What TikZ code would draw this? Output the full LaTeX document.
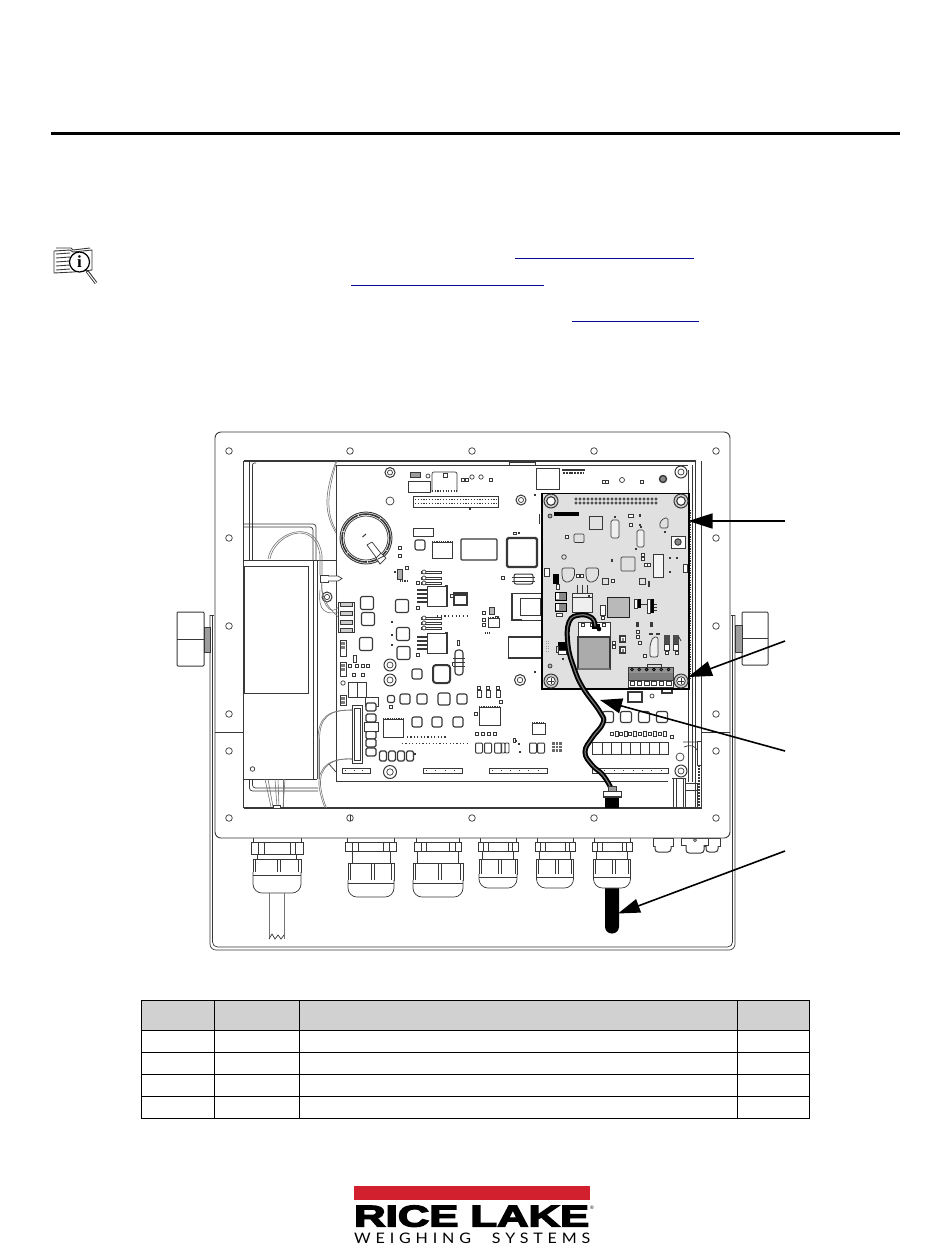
\documentclass[tikz,border=0pt]{standalone}
\usepackage{fontspec}
\usepackage{graphicx}
\usetikzlibrary{arrows.meta}
\newfontfamily\logofont{Liberation Sans}[BoldFeatures={FakeBold=4}]
\newfontfamily\subfont{Lato}[LetterSpace=30]
\newfontfamily\iconfont{Liberation Serif}
\definecolor{ink}{gray}{0.22}
\definecolor{brd}{gray}{0.88}
\definecolor{linkblue}{HTML}{0A0A96}
\definecolor{logored}{HTML}{D2202F}
\tikzset{
 ln/.style={draw=ink,line width=.7pt},
 hv/.style={draw=ink,line width=1.5pt},
 wirel/.style={draw=ink!70,line width=.6pt},
 arrowline/.style={draw=black,line width=1.6pt},
}
\newcommand\mybox[4]{\draw[ln] (#1,#2) rectangle (#3,#4);}
\newcommand\mywbox[4]{\draw[ln,fill=white] (#1,#2) rectangle (#3,#4);}
\newcommand\mygbox[5]{\draw[ln,fill=#5] (#1,#2) rectangle (#3,#4);}
\newcommand\mychip[4]{%
 \draw[draw=ink,line width=1.6pt,dash pattern=on 1.1pt off 1.1pt] (#1,#2) -- (#3,#2) (#1,#4) -- (#3,#4);
 \draw[ln,fill=white] (#1,#2) rectangle (#3,#4);}
\newcommand\mycap[3]{\draw[draw=ink,line width=1.1pt,fill=white,rounded corners=2pt] (#1-#3,#2-#3) rectangle (#1+#3,#2+#3);}
\newcommand\mysm[2]{\draw[ln,fill=white] (#1-1.5,#2-1.5) rectangle (#1+1.5,#2+1.5);}
\newcommand\mydk[2]{\fill[ink] (#1-1.4,#2-1.2) rectangle (#1+1.4,#2+1.2);}
\newcommand\myhole[2]{\draw[ln] (#1,#2) circle[radius=3.3pt];}
\newcommand\myring[3]{\draw[draw=ink,line width=1pt] (#1,#2) circle[radius=#3 pt]; \draw[ln] (#1,#2) circle[radius=#3*.5 pt];}
\newcommand\mydots[4]{\draw[draw=ink,line width=1.3pt,dash pattern=on 1.2pt off #4 pt] (#1,#3) -- (#2,#3);}
\newcommand\mystrip[3]{\draw[ln] (#1,768) rectangle (#2,773);\draw[draw=ink,line width=1.5pt,dash pattern=on .9pt off #3 pt] (#1+3,770.5) -- (#2-2,770.5);}
\newcommand\mygland[7]{% cx halfnut ynut yneck halfnut2 ynut2 ydome
 \begin{scope}[shift={(#1,0)}]
 \draw[ln,fill=white] ({-#2+2},837) rectangle ({#2-2},842);
 \draw[ln,fill=white] (-#2,842) rectangle (#2,#3);
 \draw[ln] ({-#2*.72},842) -- ({-#2*.72},#3) ({-#2*.5},842) -- ({-#2*.5},#3) ({#2*.72},842) -- ({#2*.72},#3) ({#2*.5},842) -- ({#2*.5},#3);
 \draw[ln,fill=white] ({-#5*.82},#3) rectangle ({#5*.82},#4);
 \draw[ln,fill=white] (-#5,#4) rectangle (#5,#6);
 \draw[ln] ({-#5*.9},#4) -- ({-#5*.9},#6) ({#5*.9},#4) -- ({#5*.9},#6) (0,#4) -- (0,#6) (3,#4) -- (3,#6);
 \draw[ln,fill=white,rounded corners=9pt] (-#5,#6) -- (-#5,#7) -- (#5,#7) -- (#5,#6);
 \draw[ln] (-#5,{#6+3.5}) -- (#5,{#6+3.5});
 \end{scope}}
\begin{document}
\begin{tikzpicture}[x=1pt,y=-1pt]
\useasboundingbox (0,0) rectangle (950,1254);
\fill[white] (0,0) rectangle (950,1254);
% ---- page rule and blank cross-reference underlines
\draw[draw=black,line width=3pt] (51,133) -- (900,133);
\draw[draw=linkblue,line width=1.4pt] (514.5,258.3) -- (694,258.3);
\draw[draw=linkblue,line width=1.4pt] (351,285.3) -- (544,285.3);
\draw[draw=linkblue,line width=1.4pt] (572,321.3) -- (699,321.3);
% ---- info icon
\begin{scope}[line join=round]
 \draw[draw=ink,line width=.9pt] (54,251) -- (70,250) -- (73,252) -- (92,250) -- (92,270) -- (73,272) -- (54,273) -- cycle;
 \draw[draw=ink,line width=.9pt] (56,248) -- (71,248) -- (73,250) -- (90,248);
 \foreach \yy in {254,258,262,266,270} \draw[draw=ink,line width=.9pt] (56,\yy) -- (70,\yy-1);
 \draw[draw=black,line width=1.2pt,fill=white] (79.5,262) circle[radius=10pt];
 \draw[draw=ink,line width=3pt] (87,271) -- (96,283);
 \draw[draw=white,line width=1pt] (87.5,272) -- (96,283);
 \node[inner sep=0pt,font=\iconfont\bfseries\fontsize{17}{17}\selectfont] (iconi) at (79.5,262) {i};
\end{scope}
% ---- back plate
\draw[ln,rounded corners=6pt] (210,615) -- (210,950) -- (735,950) -- (735,615);
\draw[ln,rounded corners=5pt] (212.5,615) -- (212.5,947) -- (732.5,947) -- (732.5,615);
\draw[ln] (210,615) -- (214,615) (735,615) -- (731,615);
% ---- knobs
\draw[draw=ink,line width=1pt,fill=white,rounded corners=1pt] (177,612) rectangle (204,666);
\draw[ln] (177,639) -- (204,639);
\draw[ln,fill=ink!50] (204,627) rectangle (210,652);
\draw[draw=ink,line width=1pt,fill=white,rounded corners=1pt] (742,612) rectangle (768,665);
\draw[ln] (742,638) -- (768,638);
\draw[ln,fill=ink!50] (735,625) rectangle (742,652);
% ---- glands below the housing
\mygland{277}{26}{854}{859}{24}{872}{893}
\draw[draw=ink!70,line width=.7pt] (269,893) -- (269,939) (284,893) -- (284,939);
\draw[draw=ink,line width=.7pt] (269,939) -- (272,934) -- (275,939) -- (278,935) -- (281,939) -- (284,935);
\mygland{371}{25.5}{851}{863}{23}{880}{897}
\mygland{438}{23.5}{851}{863}{25}{880}{897}
\mygland{498}{20}{851}{859}{19}{874}{888}
\mygland{555}{20}{851}{859}{18.5}{874}{888}
\fill[black,rounded corners=6.8pt] (605,875) rectangle (619,933.5);
\mygland{612}{20}{851}{859}{18.5}{874}{888}
\foreach \cx/\hw in {663/10,712/8} {
 \draw[ln,fill=white] (\cx-\hw,838) rectangle (\cx+\hw,846);
 \draw[draw=ink,line width=1pt,fill=white,rounded corners=3pt] (\cx-\hw+2,846) -- (\cx-\hw+2,852) -- (\cx+\hw-2,852) -- (\cx+\hw-2,846);
}
\draw[ln,fill=white] (681,838) rectangle (708,845);
\draw[draw=ink,line width=1pt,fill=white,rounded corners=3pt] (686,845) -- (686,853) -- (704,853) -- (704,845);
\draw[ln] (695,840) circle[radius=1.5pt];
% ---- housing flange
\draw[draw=ink,line width=.9pt,fill=white,rounded corners=6pt] (215,432) rectangle (730,838);
\foreach \xx in {229,350,472,594,716} {\myhole{\xx}{451}\myhole{\xx}{818}}
\foreach \xx in {229,716} \foreach \yy in {538,626,714,751} \myhole{\xx}{\yy};
\draw[ln] (350.5,815) -- (350.5,821);
% ---- housing opening
\draw[draw=ink,line width=1.5pt] (243.5,808) -- (702,808);
\draw[draw=ink,line width=1.2pt] (243.5,461) -- (696,461);
\draw[draw=ink,line width=.9pt] (243.5,461) -- (243.5,808);
\draw[ln] (695,461) -- (695,808) (701,461) -- (701,808);
\draw[ln] (688.5,470) -- (688.5,782) (692,465) -- (692,782);
\draw[ln] (215,732) -- (243.5,732) (701,732) -- (730,732);
% rail behind transformer
\draw[ln] (249.5,461) -- (249.5,560);
\draw[ln,rounded corners=2pt] (256,463) -- (252.5,463) -- (252.5,560);
\draw[ln,rounded corners=3pt] (243.5,524) -- (316,524) -- (316,560);
\draw[ln,rounded corners=3pt] (243.5,527) -- (313,527) -- (313,560);
\draw[ln] (243.5,560) -- (336,560);
% wires by the top
\foreach \d in {0,2.5} \draw[wirel] ({336+\d*.3},{461}) .. controls ({326+\d},490) and ({322+\d},510) .. ({336},{533-\d});
% transformer
\draw[draw=ink,line width=.8pt,fill=white] (243.5,560) rectangle (313,779);
\draw[ln] (317,560) -- (317,779) (243.5,779) -- (317,779);
\draw[draw=ink,line width=1pt] (244,566) rectangle (308,693);
\draw[ln] (252.5,769) circle[radius=2.3pt];
% transformer under-lines and wires
\draw[ln,rounded corners=3pt] (249.5,779) -- (249.5,791) -- (318,791);
\draw[ln,rounded corners=3pt] (252.5,779) -- (252.5,788) -- (318,788);
\foreach \xa/\xb in {265/271,268/273,275/277,278/279,283/283,285/283} \draw[wirel] (\xa,779) -- (\xb,807);
\draw[ln,fill=white] (273,805) rectangle (280,808);
% wire loop from transformer
\foreach \d in {0,2} \draw[wirel] ({268+\d},559) .. controls ({272+\d},{533+\d}) and ({316-\d},{515+\d}) .. ({322-\d},555) -- ({322-\d},575);
% ---- main PCB
\draw[ln] (336,465) -- (336,781) -- (668,781);
\draw[ln] (336,465) -- (688,465);
\draw[ln,fill=white] (535,465) rectangle (509,462);
% standoff and ring terminal
\draw[ln,fill=white] (320,575) rectangle (328,582);
\draw[ln,fill=white] (328,576) -- (338,576) -- (342,578.5) -- (338,581) -- (328,581);
\draw[draw=ink,line width=1pt,fill=white] (327,597) circle[radius=5pt];
\draw[ln] (327,597) circle[radius=2.6pt];
\draw[wirel] (320,590) .. controls (318,612) and (325,615) .. (342,612);
\draw[wirel] (322,582) .. controls (320,600) and (330,620) .. (340,605);
\draw[wirel] (322,582) .. controls (320,600) and (332,612) .. (342,620);
% terminal block
\draw[draw=ink,line width=1pt,fill=white] (338,602) rectangle (354,632);
\foreach \yy in {602,611,620,628} {\draw[ln,fill=ink!25] (340,\yy) rectangle (352,\yy+4);}
% capacitors
\foreach \xx/\yy in {367/603,368/619,366/644,402/606,403/634,403.5/653} \mycap{\xx}{\yy}{6.5};
\foreach \xx/\yy in {417/674,405/699,422/699,462/699,420/545} \mycap{\xx}{\yy}{5};
\mycap{444}{699}{6}
\draw[draw=ink,line width=2pt,fill=white,rounded corners=3pt] (433,665) rectangle (450,683);
\foreach \xx/\yy in {417/722,437/722,458/722} {\mycap{\xx}{\yy}{5}}
\foreach \xx/\yy in {608/717,626/717,644/717,662/717} {\mycap{\xx}{\yy}{5.5}}
\mycap{391}{699}{3.5}
% screw posts and rings
\myring{390}{665}{6}\myring{390}{680}{6}\myring{390}{772}{6.5}
\myring{390}{472.5}{5}
\draw[ln] (390,501) circle[radius=4pt];
\myring{521}{500}{5}\myring{520}{680}{5.5}
\myring{681}{472}{6}
\draw[ln] (680,757) circle[radius=4pt];
\myring{681}{771}{6}
% top area
\mygbox{410}{472}{420}{477}{ink!50}
\draw[ln] (428,476) circle[radius=2pt];
\mybox{408}{481}{430}{492}
\draw[ln,rounded corners=2pt] (432,492) -- (432,472) -- (457,472) -- (457,492);
\draw[ln] (443,473) rectangle (447,477);
\draw[draw=ink,line width=1.3pt,dash pattern=on 1.2pt off 1.5pt] (432,491) -- (457,491);
\foreach \xx/\yy in {463/480,467/480,491/480} \mysm{\xx}{\yy};
\foreach \xx in {472,481} \draw[ln] (\xx,477) circle[radius=2.2pt];
\draw[ln] (413,496) rectangle (498,507);
\mydots{415}{497}{499.5}{1.6}\mydots{415}{497}{503.5}{1.6}
\mydk{470}{509}
% battery
\draw[draw=ink,line width=.9pt] (366,538) circle[radius=26pt];
\draw[draw=ink,line width=1.6pt,dash pattern=on 22pt off 1pt] (366,538) circle[radius=24pt];
\draw[ln] (366,538) circle[radius=22pt];
\draw[draw=ink,line width=1pt] (362.5,537) -- (366,534);
\draw[ln,fill=white] (367,545) -- (372,542) -- (383,556) -- (378,560) -- cycle;
\draw[ln,fill=white] (376,558) -- (381,553) -- (386,558) -- (380,564) -- cycle;
\draw[ln] (378,559) -- (384,556);
% left column small items
\mywbox{413}{528}{433}{536}
\mychip{432}{542}{452}{558}
\draw[draw=ink,line width=1.2pt,fill=white,rounded corners=1pt] (461,539) rectangle (497,560);
\mysm{400}{548}\mysm{400}{556}
\draw[ln,fill=ink!40] (397,569) rectangle (402,579);
\mysm{407}{568}\mydk{395}{572}
\mydots{400}{407}{581}{1}
\foreach \yy in {572,578,583} {\draw[ln] (421,\yy-1) rectangle (441,\yy+1); \draw[ln,fill=white] (424,\yy) circle[radius=2pt];}
\foreach \yy in {618,623,628} {\draw[ln] (421,\yy-1) rectangle (441,\yy+1); \draw[ln,fill=white] (424,\yy) circle[radius=2pt];}
\foreach \yt in {586,633} {
 \draw[ln,fill=white] (427,\yt) rectangle (447,\yt+20);
 \draw[draw=ink,line width=1.4pt] (445,\yt) -- (447,\yt) -- (447,\yt+20);
 \foreach \d in {4,8,12,16} \draw[draw=ink,line width=1.4pt] (417,\yt+\d) -- (427,\yt+\d);
 \mysm{418}{\yt+22}
}
\draw[draw=ink,line width=1.2pt] (454,593) rectangle (467,605);
\fill[ink] (454,593) rectangle (467,595.5);
\mysm{452}{596}\mysm{418}{583}
\mydots{437}{468}{616}{2.5}
\draw[ln] (457,640) rectangle (459,645);
\foreach \yy in {622,635,645} \mydk{392}{\yy};
% crystal
\draw[draw=ink,line width=1.1pt,fill=white,rounded corners=3pt] (455,650) rectangle (463,675);
\foreach \yy in {658,662,666} \draw[ln] (453,\yy) -- (465,\yy);
\draw[draw=ink,line width=1pt] (452,662) -- (452,666);
% small IC cluster right
\draw[ln,fill=ink!35] (489,607) rectangle (494,614);
\foreach \xx/\yy in {484/613,484/620,484/625,497/618} \mysm{\xx}{\yy};
\mychip{488}{618}{499}{627}
\mydots{485}{490}{633}{.8}
% left terminal pads
\foreach \yt/\yb in {640/656,662/676,695/705} {\draw[ln] (340,\yt) rectangle (346,\yb); \fill[ink!65] (341,\yt+1.5) rectangle (345,\yt+4.5);\fill[ink!65] (341,\yt+6) rectangle (345,\yt+9);}
\draw[ln] (343,683) circle[radius=2.2pt];
\mybox{353}{655}{356}{662}
\foreach \xx in {350,357,363,368} \mysm{\xx}{666};
\foreach \xx in {354,363} \mysm{\xx}{675};
\draw[ln,fill=white] (348,682) rectangle (357,697);
\draw[ln,fill=white] (357,682) rectangle (366,697);
\mywbox{365}{697}{378}{706}
% flat cable
\foreach \d in {0,1.5} \draw[wirel] (352,{710-\d*0}) .. controls ({330+\d},710) and ({318+\d},715) .. ({318+\d},740) -- ({318+\d},779);
\foreach \d in {0,1.5} \draw[wirel] (352,759) .. controls ({332+\d},758) and ({318+\d},765) .. ({319+\d},785) .. controls ({320+\d},795) and ({323+\d},803) .. ({325+\d},808);
\draw[ln] (329,764) -- (336,772);
\draw[ln,fill=white] (352,705) rectangle (362,763);
\draw[ln] (354,708) rectangle (360,760);
\foreach \yy in {707,718,735,743,752} \draw[draw=ink,line width=1.1pt,fill=white,rounded corners=1.5pt] (366,\yy-4) rectangle (376,\yy+4);
\draw[ln,fill=white] (364,722) rectangle (378,731);
\foreach \xx in {383,392,401,410} \draw[draw=ink,line width=1.2pt,fill=white,rounded corners=1.5pt] (\xx-3.5,751) rectangle (\xx+3.5,761);
\mydk{415}{754}
\mychip{383}{719}{403}{737}
\mysm{391}{707}
\mydots{407}{447}{737}{2.2}
\mydots{402}{467}{743.5}{2.2}
\foreach \xx in {479,488,498} {\draw[ln] (\xx-2,690) rectangle (\xx+2,697); \mysm{\xx}{688}}
\mychip{479}{707}{500}{725}
\mysm{476}{714}
\foreach \xx in {477,483,489,495} \mysm{\xx}{734};
\foreach \xx in {479,488,498} \draw[draw=ink,line width=1pt,rounded corners=1pt] (\xx-3.5,743) rectangle (\xx+3.5,753);
\draw[ln] (513,738) rectangle (515,742);
\mydk{516}{741}\mydk{520}{752}
\mydk{519}{744}
\foreach \xx in {533,541} \draw[draw=ink,line width=1pt,rounded corners=1pt] (\xx-3.5,743) rectangle (\xx+3.5,753);
\foreach \xx in {503,507} \draw[draw=ink,line width=.9pt,rounded corners=1pt] (\xx-2,743) rectangle (\xx+2,753);
\foreach \xx in {552,555.5,559} \foreach \yy in {742,745.5,749} \fill[ink!75] (\xx,\yy) rectangle (\xx+2.6,\yy+2.6);
\mychip{532}{723}{545}{734}
% connector strips
\mystrip{342}{370}{7.7}
\mystrip{423}{462}{8.5}
\mystrip{489}{547}{8.2}
\mystrip{592}{668}{8.5}
% items right of centre
\mygbox{536}{468}{559}{489}{white}
\fill[ink] (562,469) rectangle (585,470.5);
\draw[draw=ink,line width=2pt,dash pattern=on 2pt off .8pt] (563,473) -- (584,473);
\foreach \xx in {604,607,642} \mysm{\xx}{482};
\foreach \xx/\rr in {622/2.5} \draw[ln] (\xx,480) circle[radius=\rr pt];
\draw[draw=ink,line width=1.4pt,fill=ink!60] (663,479) circle[radius=3.5pt];
\mydk{535}{495}\mydk{535}{672}
\draw[draw=ink,line width=2.2pt,fill=white,rounded corners=1.5pt] (507,538) rectangle (537,567);
\draw[ln] (513,532) rectangle (516,534);\mydk{519}{533}
\draw[draw=ink,line width=1pt,fill=white,rounded corners=2pt] (514,574) rectangle (533,584);
\draw[ln] (512,577) -- (535,577) (512,581) -- (535,581);
\mysm{503}{578}
\draw[ln,fill=white] (512,593) rectangle (542,620);
\draw[ln] (520,598) rectangle (540,615);
\draw[draw=ink,line width=1.2pt] (512,593) -- (512,620) -- (522,620);
\draw[draw=ink,line width=1.2pt,fill=white] (508.5,637) rectangle (542,658);
\mysm{501}{702}
% ---- below add-on board, behind the arrow
\draw[draw=ink,line width=1.2pt] (628,692) rectangle (642,702);
\draw[ln] (652,696) circle[radius=2pt];
\draw[draw=ink,line width=1.2pt] (662,689) rectangle (672,693);
\foreach \xx in {612,621,630,640,650,660} {\mysm{\xx}{734}\draw[ln] (\xx+3,731) rectangle (\xx+6,736);}
\foreach \xx in {592.7,602,611.5,621,630.5,640,649.5,659} \draw[ln] (\xx,742) rectangle (\xx+9.4,754);
\mysm{672}{737}
% right lower hardware
\draw[ln] (673,778) rectangle (685,807);
\draw[ln] (676,778) -- (676,807) (683,778) -- (683,807);
\draw[ln] (685,783) rectangle (697,807);
\draw[ln] (685,790) -- (697,790);
\draw[draw=ink,line width=2pt,dash pattern=on 2pt off 1pt] (699,765) -- (699,807);
\draw[ln,fill=white] (697,741) rectangle (701,765);
\draw[ln] (683,742) -- (697,742) (684,747) .. controls (690,744) and (695,746) .. (697,750);
\draw[ln] (672,778) -- (685,778);
% ---- add-on board
\draw[draw=black,line width=1.4pt,fill=brd] (542,493.5) rectangle (689,689);
\draw[draw=ink,line width=1.4pt,dash pattern=on 1.2pt off 1.2pt] (690.5,510) -- (690.5,680);
\foreach \xx/\yy in {551/501,681/501} {\draw[draw=ink,line width=1pt,fill=ink!25] (\xx,\yy) circle[radius=7pt]; \draw[draw=ink,line width=1.1pt,fill=white] (\xx,\yy) circle[radius=4.3pt];}
\foreach \xx/\yy in {551/681,681/681} {\draw[draw=ink,line width=1pt,fill=ink!25] (\xx,\yy) circle[radius=7pt]; \draw[draw=ink,line width=.8pt,fill=white] (\xx,\yy) circle[radius=4.3pt]; \draw[ln] (\xx-3,\yy) -- (\xx+3,\yy) (\xx,\yy-3) -- (\xx,\yy+3);}
\foreach \yy in {499,503} \foreach \xx in {0,...,20} \draw[draw=ink,line width=.6pt,fill=ink!70] (576+\xx*4,\yy) circle[radius=1.2pt];
\fill[black] (554,512) rectangle (579,516);
\draw[draw=ink,line width=.8pt,fill=ink!40] (550,516) circle[radius=2pt];
\draw[draw=ink,line width=1pt] (539,514) -- (539,524);
\mybox{589}{516}{602}{529}
\foreach \a/\b/\c/\d in {611/520/619/538,637/530/644/547} {\draw[ln,rounded corners=1.5pt,fill=ink!8] (\a,\b) rectangle (\c,\d);\mydk{\a+4}{\b-3}}
\mydk{636}{549}
\draw[ln,rounded corners=1.5pt] (660,528) -- (660,522) -- (664,518) -- (668,518) -- (668,528) -- cycle;
\mydk{665}{532}
\draw[ln,fill=white] (671,536) rectangle (685,548);
\draw[draw=ink,line width=1pt,fill=ink!60] (678,542) circle[radius=3.2pt];
\draw[ln,fill=white] (628,514) rectangle (633,517); \mydk{640}{515.5}\mysm{631}{525}\mydk{640}{525}\mydk{615}{517}
\draw[ln,rounded corners=1pt] (574,534) rectangle (584,542.5);
\mysm{567}{537}
\draw[ln] (564,557) circle[radius=2.3pt];
\mydk{612}{560.5}
\draw[ln,rounded corners=1pt] (621,557) rectangle (635,571);
\mysm{643}{554.5}\mysm{643}{558.5}\mysm{646}{565}\mysm{649}{565}
\draw[ln,fill=ink!5] (653,554) rectangle (663,577);
\mydk{670}{558}\mydk{677}{558}\mydk{670}{572}
\mywbox{683}{564}{687}{572}
\foreach \xx in {562,586} \draw[ln,rounded corners=2pt] (\xx,568) -- (\xx+12.5,568) -- (\xx+12.5,577) -- (\xx+8,582) -- (\xx+2,582) -- (\xx,577) -- cycle;
\mysm{577.5}{575.5}\mysm{582}{575.5}
\mywbox{544}{568}{549}{576}
\fill[black] (553,574) rectangle (559,584);
\draw[ln,fill=white] (556,584) rectangle (559,589);
\foreach \xx/\yy in {602/578,639/578} \draw[ln,fill=brd] (\xx,\yy) rectangle (\xx+6.5,\yy+6.5);
\mysm{613}{581}\fill[ink] (648,581) rectangle (650,587);
\foreach \yy in {592,603} {\draw[draw=black,line width=.9pt,fill=ink!60] (555,\yy) rectangle (566,\yy+8); \fill[white] (556,\yy+1) rectangle (559,\yy+7);}
\mywbox{556}{613}{562}{616}
\foreach \xx in {577,582,587} \draw[draw=ink,line width=1pt] (\xx,585) -- (\xx,593);
\draw[ln,fill=ink!8] (572,593) rectangle (592,612);
\draw[ln] (572,597) -- (592,597);
\mydk{589}{596}
\draw[draw=ink!60!black,line width=.8pt,fill=ink!35] (607,597) rectangle (629,617);
\mywbox{600}{605}{605}{615}
\mysm{603}{618}
\foreach \xx/\bb in {634/611,647/616} {\fill[black] (\xx,599) rectangle (\xx+7,\bb-3); \draw[ln,fill=white] (\xx,599) rectangle (\xx+3,\bb-3);}
\draw[ln] (641,604) -- (647,604);
\foreach \yy in {604,607,610} \draw[ln] (654,\yy) -- (657,\yy);
\foreach \xx/\yy in {637/624,651/624} \fill[ink] (\xx-1.5,\yy-2.5) rectangle (\xx+1.5,\yy+2.5);
\foreach \xx/\yy in {638/632,638/637,639.5/643} \mysm{\xx}{\yy};
\fill[ink] (649,633) rectangle (653,635);\fill[ink] (656,633) rectangle (660,635);
\draw[ln,rounded corners=2pt,fill=ink!8] (650,645) -- (653,637) -- (658,637) -- (658,657) -- (650,657) -- cycle;
\foreach \xx in {664,673} {\fill[ink!90] (\xx,635) rectangle (\xx+6,650); \draw[ln,fill=white] (\xx,644) rectangle (\xx+5.5,650);}
\mysm{645}{656}\mysm{667}{653}\mysm{677}{653}
\draw[ln] (679,637) -- (681,641);
\foreach \yy in {636,647} {\draw[draw=ink,line width=1.2pt,fill=white] (620,\yy) rectangle (625.5,\yy+6);\fill[ink!60] (621.5,\yy+1.5) rectangle (624,\yy+4.5);}
\foreach \yy in {643,647} \mysm{614}{\yy};
% module with shielding can
\draw[ln,fill=white] (578,622.5) rectangle (610,637);
\draw[draw=ink,line width=1.1pt,fill=ink!42] (578,637) rectangle (610,669);
\draw[draw=ink!70,line width=1.4pt] (578,669) -- (610,669);
\foreach \xx in {583,592,604} \mysm{\xx}{625};
\fill[black] (592,624) rectangle (600,629);
\fill[black] (599,629) circle[radius=2.3pt];
% left of module
\fill[black] (558,642) rectangle (566,650);
\draw[ln,fill=white] (558,650) rectangle (566,654);
\draw[draw=ink,line width=.8pt] (556,646) rectangle (558,652);
\mydk{563}{659}
\draw[ln,fill=ink!40] (550,666) circle[radius=2pt];
\draw[draw=ink!50,line width=.6pt,dash pattern=on .7pt off 1.7pt] (546,641) -- (546,652) (548,641) -- (548,652);
% terminal block on the board
\draw[ln,fill=white] (628,667) rectangle (673,687);
\fill[ink!65] (628.5,672.5) rectangle (672.5,680);
\fill[ink!55] (628.5,667.5) rectangle (672.5,672.5);
\draw[ln] (628,680) -- (673,680);
\foreach \i in {0,...,5} {
 \draw[draw=black,line width=.6pt,fill=ink!85] (632+\i*7.3,669.5) circle[radius=1.5pt];
 \draw[draw=ink,line width=1pt,fill=white] (630+\i*7.3,681) rectangle (634.6+\i*7.3,685.5);
}
\draw[draw=ink,line width=.8pt] (647,668) -- (647,664) -- (661,664) -- (661,668);
% ---- antenna cable
\draw[draw=black,line width=5pt,line cap=round] plot[smooth,tension=.75] coordinates {(595,626) (592,618) (580,615) (569,622) (568,645) (574,668) (583,688) (600,712) (603,723) (592,738) (585,752) (592,765) (603,775) (611,788)};
\draw[draw=ink!70,line width=1.2pt,line cap=round] plot[smooth,tension=.75] coordinates {(595,626) (592,618) (580,615) (569,622) (568,645) (574,668) (583,688) (600,712) (603,723) (592,738) (585,752) (592,765) (603,775) (611,788)};
\draw[ln,fill=white] (603,791) rectangle (621,797);
\fill[ink] (603,795.5) rectangle (621,797);
\draw[ln,fill=ink!50] (608,786) rectangle (616,791);
\fill[black] (605,798) rectangle (619,808);
% ---- leader arrows
\coordinate (a1s) at (785,521);\coordinate (a1t) at (688.5,521);
\coordinate (a2s) at (785,641);\coordinate (a2t) at (688,677);
\coordinate (a3s) at (785,751);\coordinate (a3t) at (600,700);
\coordinate (a4s) at (785,851);\coordinate (a4t) at (618,913.5);
\draw[arrowline,-{Triangle[length=24pt,width=15pt]}] (a1s) -- (a1t);
\draw[arrowline,-{Triangle[length=24pt,width=15pt]}] (a2s) -- (a2t);
\draw[arrowline,-{Triangle[length=22pt,width=15pt]}] (a3s) -- (a3t);
\draw[arrowline,-{Triangle[length=22pt,width=14pt]}] (a4s) -- (a4t);
% ---- parts table
\fill[black!18] (141,1000) rectangle (809,1030);
\draw[draw=black,line width=1pt] (141,1000) rectangle (809,1118);
\foreach \yy in {1030,1052,1074,1096} \draw[draw=black,line width=1pt] (141,\yy) -- (809,\yy);
\foreach \xx in {214,299,737} \draw[draw=black,line width=1pt] (\xx,1000) -- (\xx,1118);
% ---- logo
\fill[logored] (354,1186) rectangle (589.5,1200);
\node[anchor=south west,inner sep=0pt] (logomain) at (354,1227) {\resizebox{235pt}{21pt}{\logofont\bfseries RICE LAKE}};
\node[anchor=south west,inner sep=0pt,font=\logofont\fontsize{5}{5}\selectfont] (logoreg) at (590,1210) {®};
\node[anchor=south west,inner sep=0pt] (logosub) at (354,1244) {\resizebox{236pt}{10.5pt}{\subfont WEIGHING\rule{1.3em}{0pt}SYSTEMS}};
\end{tikzpicture}
\end{document}
